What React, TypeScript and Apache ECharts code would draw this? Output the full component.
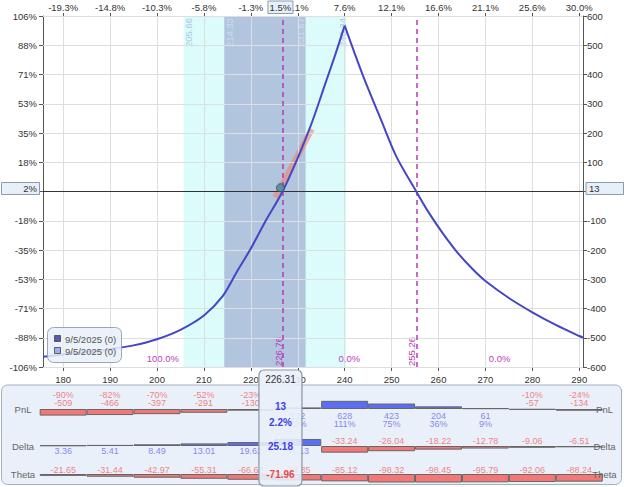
import React, { useEffect, useRef } from 'react';
import * as echarts from 'echarts';

const xMin = 175.7;
const xMax = 290.8;
const priceTicks = [180, 190, 200, 210, 220, 230, 240, 250, 260, 270, 280, 290];
const topPctLabels = ['-19.3%', '-14.8%', '-10.3%', '-5.8%', '-1.3%', '3.1%', '7.6%', '12.1%', '16.6%', '21.1%', '25.6%', '30.0%'];
const pnlTicks = [-600, -500, -400, -300, -200, -100, 0, 100, 200, 300, 400, 500, 600];
const leftPctLabels = ['-106%', '-88%', '-71%', '-53%', '-35%', '-18%', '0%', '18%', '35%', '53%', '71%', '88%', '106%'];

const curvePrices = [175.7, 180, 185, 190, 195, 200, 205, 210, 214, 217, 220, 223, 226.76, 230, 233, 236, 238, 240, 242, 244, 247.8, 251, 255.26, 258, 261, 264, 267.3, 270, 275, 280, 285, 290, 290.8];
const curveValues = [-565, -557, -549, -539, -526, -505, -473, -424, -358, -275, -195, -105, 0, 115, 235, 375, 468, 567, 478, 392, 243, 120, 0, -74, -145, -208, -266, -306, -364, -413, -456, -494, -499];
const peakPrice = 240;

const outerBand = [205.66, 240.34];
const innerBand = [214.33, 231.67];
const breakEvens = [226.76, 255.26];
const zoneProbs = ['100.0%', '0.0%', '0.0%'];

const currentPrice = 226.31;
const currentPnl = 13;
const currentPnlPct = '2.2%';
const currentMovePct = '1.5%';
const currentPnlPctAxis = '2%';
const currentDelta = 25.18;
const currentTheta = -71.96;
const tangentPrices = [225.2, 233.0];
const tangentValues = [-20, 213];

const tablePnl = [-509, -466, -397, -291, -130, 122, 628, 423, 204, 61, -57, -134];
const tablePnlPct = [-90, -82, -70, -52, -23, 22, 111, 75, 36, 9, -10, -24];
const tableDelta = [3.36, 5.41, 8.49, 13.01, 19.62, 35.13, -33.24, -26.04, -18.22, -12.78, -9.06, -6.51];
const tableTheta = [-21.65, -31.44, -42.97, -55.31, -66.62, -74.85, -85.12, -98.32, -98.45, -95.79, -92.06, -88.24];
const rowNames = ['PnL', 'Delta', 'Theta'];
const legendLabels = ['9/5/2025 (0)', '9/5/2025 (0)'];
const legendColors = ['#5a5ab4', '#9aaef0'];

const FONT = 'Arial, "Liberation Sans", sans-serif';
const RED = '#f27878';
const BLUE = '#5b6ef2';
const RED_T = '#f06464';
const BLUE_T = '#6a6af0';
const PURPLE = '#b43cb4';

export default function App() {
  const ref = useRef<HTMLDivElement>(null);
  useEffect(() => {
    if (!ref.current) return;
    const chart = echarts.init(ref.current, null, { renderer: 'svg' });
    const hiddenX = (gi: number) => ({ type: 'value', gridIndex: gi, min: xMin, max: xMax, show: false });
    const barSeries = (idx: number, vals: number[]) => ({
      type: 'bar',
      xAxisIndex: idx,
      yAxisIndex: idx,
      barWidth: 47,
      z: 3,
      data: vals.map((v, i) => ({
        value: [priceTicks[i], v],
        itemStyle: { color: v >= 0 ? BLUE : RED, borderColor: '#666', borderWidth: 1 },
      })),
    });
    const labelSeries = (idx: number, items: any[]) => ({
      type: 'scatter',
      xAxisIndex: idx,
      yAxisIndex: idx,
      symbolSize: 0.1,
      itemStyle: { color: 'transparent' },
      z: 4,
      silent: true,
      data: items,
    });
    const lbl = { fontSize: 9, fontFamily: FONT, lineHeight: 8.5 };
    const curvePts = curvePrices.map((p, i) => [p, curveValues[i]]);
    const peakIdx = curvePrices.indexOf(peakPrice);
    const curveSeries = (pts: number[][]) => ({
      type: 'line', xAxisIndex: 0, yAxisIndex: 0, z: 5, silent: true,
      data: pts, showSymbol: false, smooth: 0.3,
      lineStyle: { color: '#4545c6', width: 2 },
    });

    chart.setOption({
      animation: false,
      backgroundColor: '#ffffff',
      grid: [
        { left: 43, right: 41, top: 16, height: 351 },
        { left: 43, right: 41, top: 396, height: 26 },
        { left: 43, right: 41, top: 433, height: 26 },
        { left: 43, right: 41, top: 461, height: 26 },
      ],
      xAxis: [
        {
          type: 'value', gridIndex: 0, position: 'bottom', min: xMin, max: xMax,
          axisLine: { show: true, onZero: false, lineStyle: { color: '#555' } },
          axisTick: { show: true, customValues: priceTicks, length: 4, lineStyle: { color: '#555' } },
          axisLabel: { customValues: priceTicks, fontSize: 9.5, color: '#333', margin: 7, fontFamily: FONT },
          splitLine: { show: false },
        },
        {
          type: 'value', gridIndex: 0, position: 'top', min: xMin, max: xMax,
          axisLine: { show: false, onZero: false },
          axisTick: { show: true, customValues: priceTicks, length: 3, lineStyle: { color: '#555' } },
          axisLabel: {
            customValues: priceTicks, fontSize: 9.5, color: '#333', margin: 4, fontFamily: FONT,
            formatter: (v: number) => topPctLabels[priceTicks.indexOf(Math.round(v))] ?? '',
          },
          splitLine: { show: false },
        },
        hiddenX(1), hiddenX(2), hiddenX(3),
      ],
      yAxis: [
        {
          type: 'value', gridIndex: 0, position: 'left', min: -600, max: 600, interval: 100,
          axisLine: { show: true, onZero: false, lineStyle: { color: '#555' } },
          axisTick: { show: true, length: 4, lineStyle: { color: '#555' } },
          axisLabel: {
            fontSize: 9.5, color: '#333', margin: 6, fontFamily: FONT,
            formatter: (v: number) => leftPctLabels[pnlTicks.indexOf(Math.round(v))] ?? '',
          },
          splitLine: { show: false },
        },
        {
          type: 'value', gridIndex: 0, position: 'right', min: -600, max: 600, interval: 100,
          axisLine: { show: true, onZero: false, lineStyle: { color: '#555' } },
          axisTick: { show: true, length: 4, lineStyle: { color: '#555' } },
          axisLabel: { fontSize: 9.5, color: '#333', margin: 4, fontFamily: FONT },
          splitLine: { show: false },
        },
        { type: 'value', gridIndex: 1, min: -1000, max: 1000, show: false },
        { type: 'value', gridIndex: 2, min: -65, max: 65, show: false },
        { type: 'value', gridIndex: 3, min: -150, max: 150, show: false },
      ],
      series: [
        {
          type: 'line', xAxisIndex: 0, yAxisIndex: 0, z: 1, silent: true,
          data: [[xMin, 0]], showSymbol: false, lineStyle: { opacity: 0 },
          markArea: {
            silent: true,
            data: [
              [{ xAxis: outerBand[0], itemStyle: { color: '#dcfcfc' } }, { xAxis: outerBand[1] }],
              [{ xAxis: innerBand[0], itemStyle: { color: '#b2c5df' } }, { xAxis: innerBand[1] }],
            ],
          },
        },
        {
          type: 'line', xAxisIndex: 0, yAxisIndex: 0, z: 2, silent: true,
          data: [[xMin, 0]], showSymbol: false, lineStyle: { opacity: 0 },
          markLine: {
            silent: true, symbol: ['none', 'none'], label: { show: false },
            lineStyle: { color: '#dedede', type: 'solid', width: 1 },
            data: [
              ...priceTicks.map((v) => ({ xAxis: v })),
              ...pnlTicks.filter((v) => v !== 0).map((v) => ({ yAxis: v })),
            ],
          },
        },
        {
          type: 'line', xAxisIndex: 0, yAxisIndex: 0, z: 3, silent: true,
          data: [[xMin, 0]], showSymbol: false, lineStyle: { opacity: 0 },
          markLine: {
            silent: true, symbol: ['none', 'none'], label: { show: false },
            data: [
              { yAxis: 0, lineStyle: { color: '#333', type: 'solid', width: 1.2 } },
              ...breakEvens.map((v) => ({ xAxis: v, lineStyle: { color: PURPLE, type: [5, 4], width: 1.5 } })),
            ],
          },
        },
        {
          type: 'line', xAxisIndex: 0, yAxisIndex: 0, z: 4, silent: true,
          data: tangentPrices.map((p, i) => [p, tangentValues[i]]),
          showSymbol: false,
          lineStyle: { color: 'rgba(240,130,110,0.6)', width: 6, cap: 'butt' },
        },
        curveSeries(curvePts.slice(0, peakIdx + 1)),
        curveSeries(curvePts.slice(peakIdx)),
        {
          type: 'scatter', xAxisIndex: 0, yAxisIndex: 0, z: 6, silent: true,
          data: [[currentPrice, currentPnl]], symbolSize: 8,
          itemStyle: { color: '#3d8fa8', borderColor: '#1f5568', borderWidth: 1 },
        },
        barSeries(2, tablePnl),
        barSeries(3, tableDelta),
        barSeries(4, tableTheta),
        labelSeries(2, tablePnl.map((v, i) => ({
          value: [priceTicks[i], 0],
          label: {
            show: true, ...lbl,
            position: v < 0 ? 'top' : 'bottom', distance: v < 0 ? 1.5 : 2.5,
            color: v < 0 ? RED_T : BLUE_T,
            formatter: v < 0 ? `${tablePnlPct[i]}%\n${v}` : `${v}\n${tablePnlPct[i]}%`,
          },
        }))),
        labelSeries(3, tableDelta.map((v, i) => ({
          value: [priceTicks[i], 0],
          label: {
            show: true, ...lbl,
            position: v < 0 ? 'top' : 'bottom', distance: 1,
            color: v < 0 ? RED_T : BLUE_T,
            formatter: v.toFixed(2),
          },
        }))),
        labelSeries(4, tableTheta.map((v, i) => ({
          value: [priceTicks[i], 0],
          label: {
            show: true, ...lbl,
            position: v < 0 ? 'top' : 'bottom', distance: 0,
            color: v < 0 ? RED_T : BLUE_T,
            formatter: v.toFixed(2),
          },
        }))),
      ],
    });

    const p = (x: number, y: number) => chart.convertToPixel({ xAxisIndex: 0, yAxisIndex: 0 }, [x, y]) as number[];
    const rowY = (idx: number) => (chart.convertToPixel({ xAxisIndex: idx, yAxisIndex: idx }, [currentPrice, 0]) as number[])[1];
    const top = p(xMin, 600)[1];
    const bottom = p(xMin, -600)[1];
    const right = p(xMax, 0)[0];
    const zeroY = p(xMin, 0)[1];
    const curX = p(currentPrice, 0)[0];
    const txt = (x: number, y: number, text: string, opts: any = {}) => ({
      type: 'text', x, y, z: opts.z ?? 12, rotation: opts.rotation ?? 0,
      style: {
        text, fill: opts.fill ?? '#333', font: `${opts.weight ?? 'normal'} ${opts.size ?? 9.5}px ${FONT}`,
        align: opts.align ?? 'center', verticalAlign: 'middle',
      },
    });
    const g: any[] = [];
    g.push({ type: 'rect', z: 0, shape: { x: 1.5, y: 385, width: 620, height: 99.5, r: 6 }, style: { fill: '#e9f0f9', stroke: '#a3b0c0', lineWidth: 1 } });
    const bandLbl = [
      { v: outerBand[0], dx: 5, fill: '#a9c7dc' },
      { v: innerBand[0], dx: 5, fill: '#d0dcec' },
      { v: innerBand[1], dx: -5, fill: '#d0dcec' },
      { v: outerBand[1], dx: -4, fill: '#a9c7dc' },
    ];
    bandLbl.forEach((b) => g.push(txt(p(b.v, 0)[0] + b.dx, top + 31, b.v.toFixed(2), { rotation: Math.PI / 2, align: 'left', fill: b.fill, size: 9.5, z: 3 })));
    breakEvens.forEach((v) => g.push(txt(p(v, 0)[0] - 4.5, bottom - 1, v.toFixed(2), { rotation: Math.PI / 2, align: 'left', fill: PURPLE, size: 9.5, z: 3 })));
    const zoneBounds = [xMin, ...breakEvens, xMax];
    zoneProbs.forEach((t, i) => g.push(txt(p((zoneBounds[i] + zoneBounds[i + 1]) / 2, 0)[0], bottom - 9, t, { fill: '#c040c0', size: 9.5, z: 3 })));
    const box = { fill: '#e7eff9', stroke: '#8a9cb2', lineWidth: 1 };
    g.push({ type: 'rect', z: 10, shape: { x: 1.5, y: zeroY - 9, width: 38, height: 12 }, style: box });
    g.push(txt(37, zeroY - 3, currentPnlPctAxis, { align: 'right', z: 11 }));
    g.push({ type: 'rect', z: 10, shape: { x: right + 3, y: zeroY - 9, width: 37.5, height: 12 }, style: box });
    g.push(txt(right + 6, zeroY - 3, String(currentPnl), { align: 'left', z: 11 }));
    g.push({ type: 'rect', z: 10, shape: { x: curX - 12.5, y: 1, width: 25, height: 12.5 }, style: box });
    g.push(txt(curX, 7.5, currentMovePct, { z: 11 }));
    g.push({ type: 'rect', z: 20, shape: { x: 47.5, y: 327.5, width: 74, height: 35, r: 6 }, style: { fill: 'rgba(233,240,249,0.85)', stroke: '#97a6b8', lineWidth: 1 } });
    legendLabels.forEach((t, i) => {
      g.push({ type: 'rect', z: 21, shape: { x: 54.5, y: 335.5 + i * 12, width: 6, height: 6 }, style: { fill: legendColors[i], stroke: '#444', lineWidth: 0.8 } });
      g.push(txt(65, 339 + i * 12, t, { align: 'left', fill: '#555', z: 21 }));
    });
    rowNames.forEach((t, i) => {
      const y = rowY(i + 2);
      g.push(txt(23, y, t, { fill: '#666', size: 9.5, z: 5 }));
      g.push(txt(604.5, y, t, { fill: '#666', size: 9.5, z: 5 }));
    });
    g.push({ type: 'rect', z: 10, shape: { x: curX - 21.5, y: 370, width: 43, height: 116, r: 5 }, style: { fill: 'rgba(233,240,249,0.9)', stroke: '#8797a8', lineWidth: 1.2 } });
    g.push(txt(curX, 379, currentPrice.toFixed(2), { size: 10, z: 11 }));
    g.push(txt(curX, rowY(2) - 3, String(currentPnl), { size: 10, weight: 'bold', fill: '#4040e6', z: 11 }));
    g.push(txt(curX, rowY(2) + 13, currentPnlPct, { size: 10, weight: 'bold', fill: '#4040e6', z: 11 }));
    g.push(txt(curX, rowY(3), currentDelta.toFixed(2), { size: 10, weight: 'bold', fill: '#4040e6', z: 11 }));
    g.push(txt(curX, rowY(4), currentTheta.toFixed(2), { size: 10, weight: 'bold', fill: '#e84848', z: 11 }));

    chart.setOption({ graphic: g });
    return () => chart.dispose();
  }, []);
  return <div ref={ref} style={{ position: 'absolute', left: 0, top: 0, width: 624, height: 487 }} />;
}
